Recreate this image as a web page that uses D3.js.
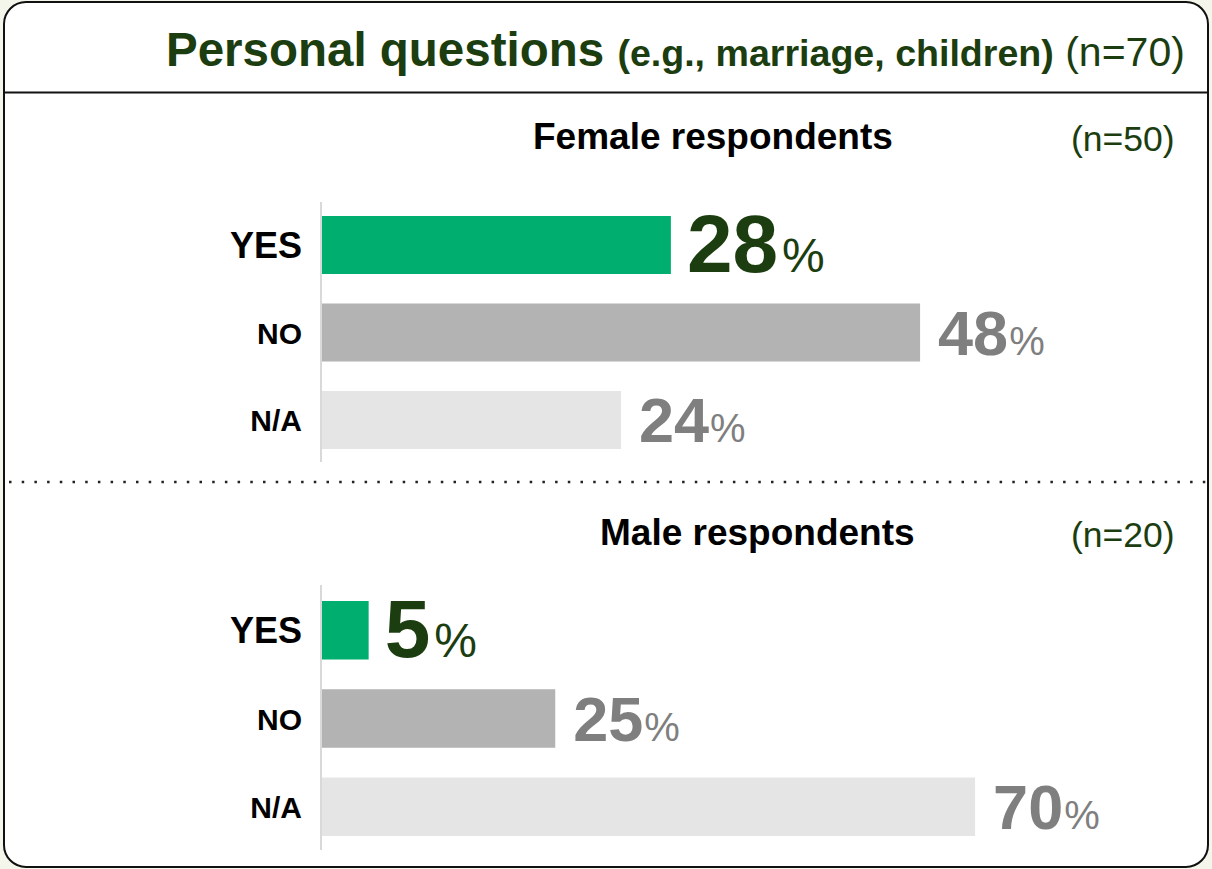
<!DOCTYPE html>
<html>
<head>
<meta charset="utf-8">
<script src="https://cdn.jsdelivr.net/npm/d3@7"></script>
<style>
  html, body { margin: 0; padding: 0; background: #f4f6ec; }
  svg { display: block; }
  text { font-family: "Liberation Sans", Arial, Helvetica, sans-serif; }
</style>
</head>
<body>
<svg id="chart" width="1212" height="869"></svg>
<script>
// ---- data ----
const categories = ["YES", "NO", "N/A"];
const femaleValues = [28, 48, 24];
const maleValues = [5, 25, 70];
const femaleN = 50;
const maleN = 20;
const totalN = 70;
const panelTitles = ["Female respondents", "Male respondents"];

// ---- styling ----
const barColors = { "YES": "#00af6f", "NO": "#b3b3b3", "N/A": "#e5e5e5" };
const darkGreen = "#1b3d0f";
const grayLabel = "#7f7f7f";

const W = 1212, H = 869;
const svg = d3.select("#chart");

// card with rounded corners
svg.append("rect")
  .attr("x", 4).attr("y", 2)
  .attr("width", W - 8).attr("height", H - 4)
  .attr("rx", 22).attr("ry", 22)
  .attr("fill", "#ffffff")
  .attr("stroke", "#111").attr("stroke-width", 2);

// header rule
svg.append("line")
  .attr("x1", 4).attr("x2", W - 4)
  .attr("y1", 92.5).attr("y2", 92.5)
  .attr("stroke", "#111").attr("stroke-width", 2);

// header title
const title = svg.append("text")
  .attr("x", 166).attr("y", 66)
  .attr("fill", darkGreen);
title.append("tspan").attr("font-weight", "bold").attr("font-size", 47.5).text("Personal questions ");
title.append("tspan").attr("font-weight", "bold").attr("font-size", 37.6).text("(e.g., marriage, children)");
title.append("tspan").attr("font-weight", "normal").attr("font-size", 41).text(" (n=" + totalN + ")");

// dotted separator between panels
svg.append("line")
  .attr("x1", 9).attr("x2", W - 4)
  .attr("y1", 482).attr("y2", 482)
  .attr("stroke", "#222").attr("stroke-width", 2.5)
  .attr("stroke-dasharray", "2.5 10.2");

const panels = [
  { title: panelTitles[0], titleX: 533, titleY: 149, n: femaleN, values: femaleValues,
    barTop: 216, barBottom: 449, axisTop: 202, axisBottom: 462, pxPerUnit: 12.46 },
  { title: panelTitles[1], titleX: 600, titleY: 545, n: maleN, values: maleValues,
    barTop: 601, barBottom: 836, axisTop: 585, axisBottom: 850, pxPerUnit: 9.33 }
];

const x0 = 322;

panels.forEach(p => {
  const g = svg.append("g");

  g.append("text")
    .attr("x", p.titleX).attr("y", p.titleY)
    .attr("font-weight", "bold").attr("font-size", 37)
    .attr("fill", "#000")
    .text(p.title);

  g.append("text")
    .attr("x", 1071).attr("y", p.titleY + 2)
    .attr("font-size", 35.5)
    .attr("fill", darkGreen)
    .text("(n=" + p.n + ")");

  const x = d3.scaleLinear().domain([0, 100]).range([x0, x0 + p.pxPerUnit * 100]);
  const y = d3.scaleBand().domain(categories)
    .range([p.barTop, p.barBottom])
    .paddingInner(0.337).paddingOuter(0);

  const rows = categories.map((c, i) => ({ cat: c, value: p.values[i] }));

  // bars
  g.selectAll("rect.bar").data(rows).join("rect")
    .attr("class", "bar")
    .attr("x", x(0))
    .attr("y", d => y(d.cat))
    .attr("width", d => x(d.value) - x(0))
    .attr("height", y.bandwidth())
    .attr("fill", d => barColors[d.cat]);

  // baseline axis
  g.append("line")
    .attr("x1", x0 - 1).attr("x2", x0 - 1)
    .attr("y1", p.axisTop).attr("y2", p.axisBottom)
    .attr("stroke", "#d9d9d9").attr("stroke-width", 2);

  // category labels
  g.selectAll("text.cat").data(rows).join("text")
    .attr("class", "cat")
    .attr("x", 302)
    .attr("text-anchor", "end")
    .attr("font-weight", "bold")
    .attr("font-size", d => d.cat === "YES" ? 36 : 30)
    .attr("fill", "#000")
    .attr("y", d => y(d.cat) + y.bandwidth() / 2 + (d.cat === "YES" ? 13 : 11))
    .text(d => d.cat);

  // value labels
  const vl = g.selectAll("text.val").data(rows).join("text")
    .attr("class", "val")
    .attr("x", d => x(d.value) + (d.cat === "YES" ? 16 : 18))
    .attr("y", d => y(d.cat) + y.bandwidth() / 2 + (d.cat === "YES" ? 27 : 22))
    .attr("fill", d => d.cat === "YES" ? darkGreen : grayLabel);
  vl.append("tspan")
    .attr("font-weight", "bold")
    .attr("font-size", d => d.cat === "YES" ? 82 : 63)
    .text(d => d.value);
  vl.append("tspan")
    .attr("font-weight", "normal")
    .attr("dx", d => d.cat === "YES" ? 4 : 1)
    .attr("font-size", d => d.cat === "YES" ? 48 : 40)
    .text("%");
});
</script>
</body>
</html>
